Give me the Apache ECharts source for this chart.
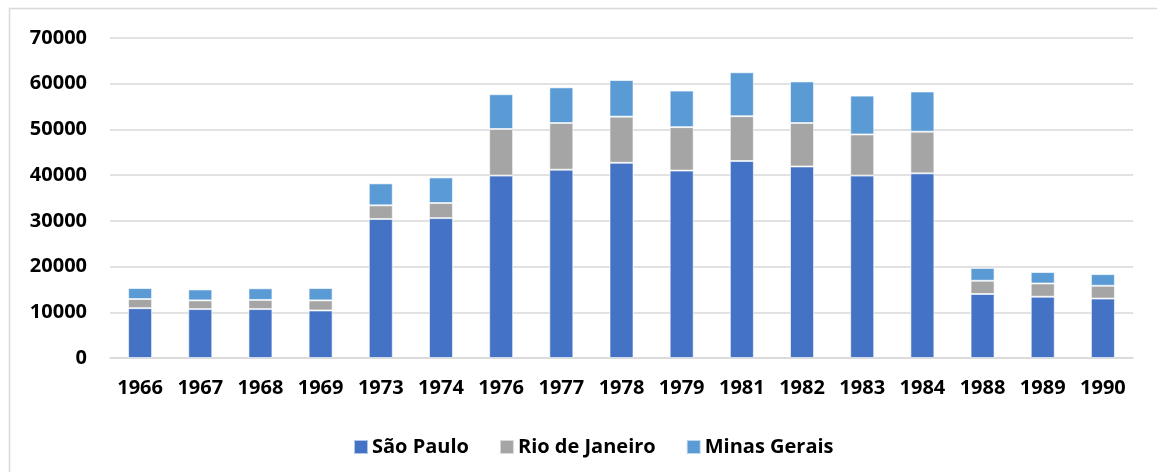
<!DOCTYPE html>
<html>
<head>
<meta charset="utf-8">
<script src="https://cdn.jsdelivr.net/npm/echarts@6/dist/echarts.min.js"></script>
<style>
  html, body { margin: 0; padding: 0; background: #fff; }
  #MyChart { width: 1157px; height: 472px; }
</style>
</head>
<body>
<div id="MyChart"></div>
<script>
// anos
const years = ['1966', '1967', '1968', '1969', '1973', '1974', '1976', '1977', '1978',
  '1979', '1981', '1982', '1983', '1984', '1988', '1989', '1990'];
// valores
const saoPaulo = [10900, 10700, 10700, 10400, 30400, 30600, 39900, 41200, 42700,
  41000, 43100, 41900, 39900, 40400, 14000, 13400, 13000];
const rioDeJaneiro = [2000, 1900, 2000, 2200, 3000, 3300, 10200, 10200, 10100,
  9500, 9800, 9500, 9000, 9100, 2900, 2900, 2800];
const minasGerais = [2400, 2400, 2550, 2700, 4800, 5600, 7600, 7800, 8000,
  8000, 9600, 9100, 8500, 8800, 2800, 2500, 2550];
const yTicks = [0, 70000, 10000]; // min, max, intervalo

const fontFam = '"Open Sans", "Noto Sans", sans-serif';

let myChart = echarts.init(document.getElementById('MyChart'));

function serie(name, data, color) {
  return {
    name: name,
    type: 'bar',
    stack: 'total',
    barWidth: 24,
    data: data,
    itemStyle: {
      color: color,
      borderColor: 'rgba(255,255,255,0.6)',
      borderWidth: 1
    }
  };
}

let option = {
  backgroundColor: '#fff',
  animation: false,
  textStyle: { fontFamily: fontFam },
  graphic: [
    // moldura (só topo e esquerda aparecem)
    {
      type: 'polyline',
      shape: { points: [[9.5, 472], [9.5, 8.5], [1157, 8.5]] },
      style: { stroke: '#d9d9d9', lineWidth: 1.5, fill: null }
    }
  ],
  grid: {
    left: 110,
    right: 24,
    top: 38,
    bottom: 114
  },
  legend: {
    left: 348,
    top: 432,
    itemWidth: 14,
    itemHeight: 14,
    itemGap: 30,
    icon: 'rect',
    textStyle: {
      fontFamily: fontFam,
      fontSize: 20,
      fontWeight: 'bold',
      color: '#000',
      padding: [0, 0, 0, -1]
    },
    data: ['São Paulo', 'Rio de Janeiro', 'Minas Gerais']
  },
  xAxis: {
    type: 'category',
    data: years,
    axisLine: { lineStyle: { color: '#d9d9d9', width: 1.5 } },
    axisTick: { show: false },
    axisLabel: {
      color: '#000',
      fontFamily: fontFam,
      fontSize: 20,
      fontWeight: 'bold',
      margin: 20
    }
  },
  yAxis: {
    type: 'value',
    min: yTicks[0],
    max: yTicks[1],
    interval: yTicks[2],
    axisLine: { show: false },
    axisTick: { show: false },
    splitLine: { lineStyle: { color: '#d9d9d9', width: 1.5 } },
    axisLabel: {
      color: '#000',
      fontFamily: fontFam,
      fontSize: 20,
      fontWeight: 'bold',
      margin: 23,
      formatter: function (v) { return String(v); }
    }
  },
  series: [
    serie('São Paulo', saoPaulo, '#4472C4'),
    serie('Rio de Janeiro', rioDeJaneiro, '#A5A5A5'),
    serie('Minas Gerais', minasGerais, '#5B9BD5')
  ]
};

myChart.setOption(option);
</script>
</body>
</html>
